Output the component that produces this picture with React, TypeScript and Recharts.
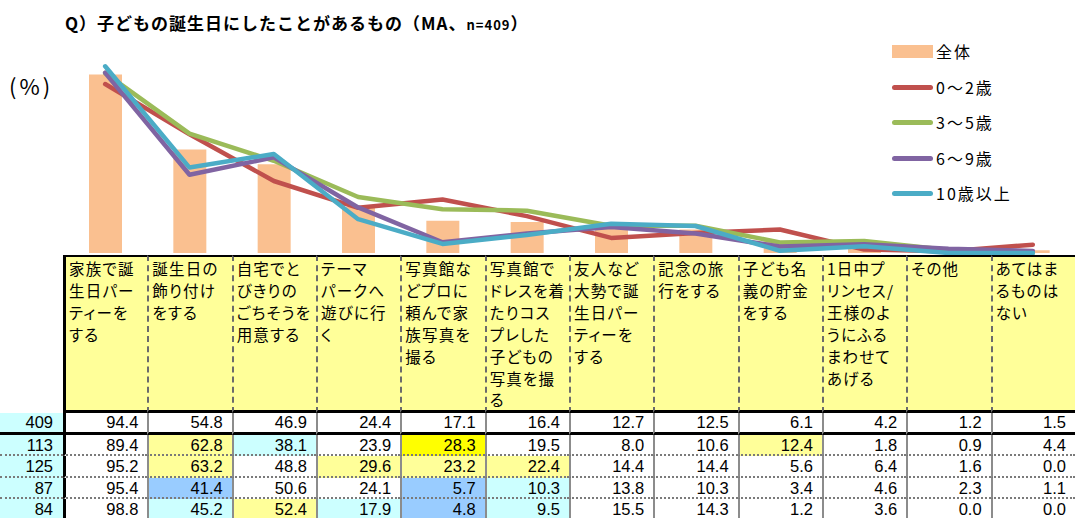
import React from "react";
import { ComposedChart, Bar, Line, XAxis, YAxis, Legend } from "recharts";

const categories = [
  "家族で誕\n生日パー\nティーを\nする",
  "誕生日の\n飾り付け\nをする",
  "自宅でと\nびきりの\nごちそうを\n用意する",
  "テーマ\nパークへ\n遊びに行\nく",
  "写真館な\nどプロに\n頼んで家\n族写真を\n撮る",
  "写真館で\nドレスを着\nたりコス\nプレした\n子どもの\n写真を撮\nる",
  "友人など\n大勢で誕\n生日パー\nティーを\nする",
  "記念の旅\n行をする",
  "子ども名\n義の貯金\nをする",
  "1日中プ\nリンセス/\n王様のよ\nうにふる\nまわせて\nあげる",
  "その他",
  "あてはま\nるものは\nない",
];

const seriesNames = ["全体", "0〜2歳", "3〜5歳", "6〜9歳", "10歳以上"];
const sampleSizes = [409, 113, 125, 87, 84];

const totalValues = [94.4, 54.8, 46.9, 24.4, 17.1, 16.4, 12.7, 12.5, 6.1, 4.2, 1.2, 1.5];
const age0to2 = [89.4, 62.8, 38.1, 23.9, 28.3, 19.5, 8.0, 10.6, 12.4, 1.8, 0.9, 4.4];
const age3to5 = [95.2, 63.2, 48.8, 29.6, 23.2, 22.4, 14.4, 14.4, 5.6, 6.4, 1.6, 0.0];
const age6to9 = [95.4, 41.4, 50.6, 24.1, 5.7, 10.3, 13.8, 10.3, 3.4, 4.6, 2.3, 1.1];
const age10up = [98.8, 45.2, 52.4, 17.9, 4.8, 9.5, 15.5, 14.3, 1.2, 3.6, 0.0, 0.0];

const rowValues = [totalValues, age0to2, age3to5, age6to9, age10up];
const lineKeys = ["a0", "a3", "a6", "a10"];
const lineColors = ["#C0504D", "#9BBB59", "#8064A2", "#4BACC6"];
const barColor = "#FAC090";

const chartData = categories.map((c, i) => ({
  cat: c,
  all: totalValues[i],
  a0: age0to2[i],
  a3: age3to5[i],
  a6: age6to9[i],
  a10: age10up[i],
}));

const JP = '"Noto Sans CJK JP", "Noto Sans", sans-serif';
const NUM = '"Liberation Sans", Arial, sans-serif';

const W = 1075;
const firstColW = 63;
const colW = (W - firstColW) / categories.length;
const headerTop = 255;
const headerH = 158;
const rowH = 21.6;

// Excel-style highlight vs. total: +10pt / +5pt / -5pt / -10pt
function cellColor(row: number, i: number) {
  if (row === 0) return "#FFFFFF";
  const d = rowValues[row][i] - totalValues[i];
  if (d >= 10) return "#FFFF00";
  if (d > 5) return "#FFFF99";
  if (d <= -10) return "#99CCFF";
  if (d < -5) return "#CCFFFF";
  return "#FFFFFF";
}

function LegendBox() {
  const rows = [44, 80, 115, 151, 186];
  return (
    <div style={{ position: "relative", width: 180, height: 170, fontFamily: JP }}>
      {seriesNames.map((name, i) => (
        <div key={name} style={{ position: "absolute", left: 0, top: rows[i] - 40, height: 14, display: "flex", alignItems: "center" }}>
          {i === 0 ? (
            <div style={{ width: 41, height: 13, background: barColor }} />
          ) : (
            <div style={{ width: 41, height: 5, borderRadius: 3, background: lineColors[i - 1] }} />
          )}
          <span style={{ marginLeft: 3, fontSize: 16, letterSpacing: 2, color: "#000", lineHeight: "14px", whiteSpace: "nowrap" }}>{name}</span>
        </div>
      ))}
    </div>
  );
}

export default function App() {
  return (
    <div style={{ position: "absolute", left: 0, top: 0, width: W, height: 518, overflow: "hidden", background: "#fff", fontFamily: JP }}>
      <div style={{ position: "absolute", left: 65, top: 12, fontSize: 17, fontWeight: 700, letterSpacing: 1, lineHeight: "22px", whiteSpace: "nowrap", color: "#000" }}>
        Q）子どもの誕生日にしたことがあるもの（MA、<span style={{ fontSize: 13 }}>n=409</span>）
      </div>
      <div style={{ position: "absolute", left: 9, top: 70, fontSize: 22, letterSpacing: 3, lineHeight: "30px", color: "#000" }}>(%)</div>

      <div style={{ position: "absolute", left: 0, top: 0 }}>
        <ComposedChart width={W} height={256} data={chartData} margin={{ top: 64, right: 0, bottom: 3, left: firstColW }}>
          <XAxis dataKey="cat" hide />
          <YAxis hide domain={[0, 100]} />
          <Legend
            layout="vertical"
            align="center"
            verticalAlign="middle"
            wrapperStyle={{ left: 892, top: 40, width: 180, height: 170 }}
            content={() => <LegendBox />}
          />
          <Bar dataKey="all" name={seriesNames[0]} fill={barColor} barSize={33} isAnimationActive={false} />
          {lineKeys.map((k, i) => (
            <Line
              key={k}
              type="linear"
              dataKey={k}
              name={seriesNames[i + 1]}
              stroke={lineColors[i]}
              strokeWidth={4.5}
              strokeLinecap="round"
              strokeLinejoin="round"
              dot={false}
              activeDot={false}
              isAnimationActive={false}
            />
          ))}
        </ComposedChart>
      </div>

      {/* header row */}
      <div style={{ position: "absolute", left: 0, top: headerTop, width: W, height: headerH, display: "flex" }}>
        <div style={{ width: firstColW, flex: "none" }} />
        {categories.map((c, i) => (
          <div
            key={i}
            style={{
              width: colW,
              flex: "none",
              boxSizing: "border-box",
              height: headerH,
              background: "#FFFF99",
              borderTop: "2px solid #000",
              borderBottom: "3px solid #000",
              borderLeft: i === 0 ? "3px solid #000" : "2px dashed #6b6b6b",
              paddingLeft: 3,
              paddingTop: 1,
              fontSize: 15.5,
              letterSpacing: 1.2,
              lineHeight: "21.9px",
              fontFeatureSettings: '"palt"',
              whiteSpace: "pre",
              overflow: "hidden",
              color: "#000",
            }}
          >
            {c}
          </div>
        ))}
      </div>

      {/* data rows */}
      {rowValues.map((vals, r) => (
        <div key={r} style={{ position: "absolute", left: 0, top: headerTop + headerH + r * rowH, width: W, height: rowH, display: "flex" }}>
          <div
            style={{
              width: firstColW,
              flex: "none",
              boxSizing: "border-box",
              height: rowH,
              background: "#CCFFFF",
              borderBottom: r === 0 ? "3px solid #000" : "2px dotted #7a7a7a",
              textAlign: "right",
              paddingRight: 10,
              fontFamily: NUM,
              fontSize: 16.5,
              lineHeight: r === 0 ? "19px" : "20px",
              color: "#000",
            }}
          >
            {sampleSizes[r]}
          </div>
          {vals.map((v, i) => (
            <div
              key={i}
              style={{
                width: colW,
                flex: "none",
                boxSizing: "border-box",
                height: rowH,
                background: cellColor(r, i),
                borderLeft: i === 0 ? "3px solid #000" : "2px solid #8c8c8c",
                borderBottom: r === 0 ? "3px solid #000" : "2px dotted #7a7a7a",
                textAlign: "right",
                paddingRight: 9,
                fontFamily: NUM,
                fontSize: 16.5,
                lineHeight: r === 0 ? "19px" : "20px",
                color: "#000",
              }}
            >
              {v.toFixed(1)}
            </div>
          ))}
        </div>
      ))}
    </div>
  );
}
